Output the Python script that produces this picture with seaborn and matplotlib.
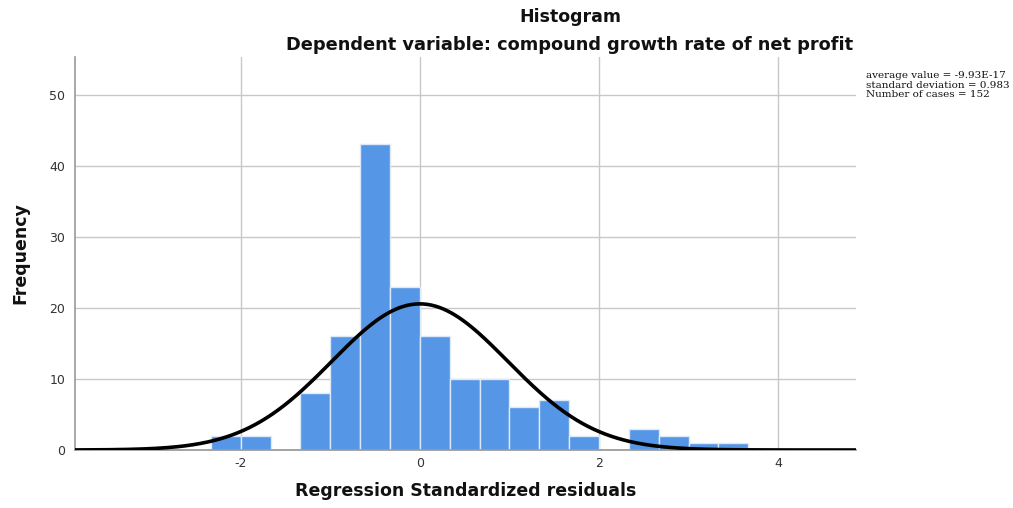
import numpy as np
import pandas as pd
import matplotlib
matplotlib.use("Agg")
import matplotlib.pyplot as plt
import seaborn as sns

# ---- data ----
bin_edges = [-7/3, -2, -5/3, -4/3, -1, -2/3, -1/3, 0, 1/3, 2/3, 1, 4/3, 5/3, 2, 7/3, 8/3, 3, 10/3, 11/3]
counts = [2, 2, 0, 8, 16, 43, 23, 16, 10, 10, 6, 7, 2, 0, 3, 2, 1, 1]
mean_value = -9.93e-17
std_dev = 0.983
n_cases = 152

title = "Histogram"
subtitle = "Dependent variable: compound growth rate of net profit"
x_label = "Regression Standardized residuals"
y_label = "Frequency"
stats_lines = ["average value = -9.93E-17", "standard deviation = 0.983", "Number of cases = 152"]

sns.set_theme(style="white")
plt.rcParams['font.family'] = ['DejaVu Sans']
plt.rcParams['axes.unicode_minus'] = False
plt.rcParams['text.color'] = '#111111'
plt.rcParams['axes.labelcolor'] = '#111111'

centers = [(bin_edges[i] + bin_edges[i + 1]) / 2 for i in range(len(counts))]
df = pd.DataFrame({"x": centers, "w": counts})

fig = plt.figure(figsize=(10.13, 5.08), dpi=100)
ax = fig.add_axes([75/1013, 58/508, (856-75)/1013, (451-58)/508])

sns.histplot(data=df, x="x", weights="w", bins=bin_edges, ax=ax,
             color="#5596e6", alpha=1.0, edgecolor="#dce9f8", linewidth=1.0, zorder=2)

xmin, xmax = -3.85, 4.87
xs = np.linspace(xmin, xmax, 400)
bw = bin_edges[1] - bin_edges[0]
ys = n_cases * bw * np.exp(-0.5 * ((xs - mean_value) / std_dev) ** 2) / (std_dev * np.sqrt(2 * np.pi))
curve = pd.DataFrame({"x": xs, "y": ys})
sns.lineplot(data=curve, x="x", y="y", ax=ax, color="black", linewidth=2.6, zorder=4)

ax.set_xlim(xmin, xmax)
ax.set_ylim(0, 55.3)
ax.set_xticks([-2, 0, 2, 4])
ax.set_yticks([0, 10, 20, 30, 40, 50])
ax.grid(True, color="#c8c8c8", linewidth=1.0, zorder=0)
ax.set_axisbelow(True)
for s in ["top", "right"]:
    ax.spines[s].set_visible(False)
ax.spines["left"].set_color("#999999")
ax.spines["bottom"].set_color("#999999")
ax.spines["left"].set_linewidth(1.2)
ax.tick_params(axis="x", labelsize=9, colors="#333333", length=0, pad=5)
ax.tick_params(axis="y", labelsize=9, colors="#333333", length=0, pad=7)
ax.set_xlabel(x_label, fontsize=12.5, fontweight="bold", labelpad=9)
ax.set_ylabel(y_label, fontsize=12.5, fontweight="bold", labelpad=14)

fig.text(570/1013, 1 - 17/508, title, ha="center", va="center", fontsize=12.5, fontweight="bold")
fig.text(570/1013, 1 - 45/508, subtitle, ha="center", va="center", fontsize=12.8, fontweight="bold")
fig.text(866/1013, 1 - 71/508, "\n".join(stats_lines), ha="left", va="top",
         fontsize=7.5, family=["DejaVu Serif"], linespacing=1.1)

fig.savefig("out.png", dpi=100)
